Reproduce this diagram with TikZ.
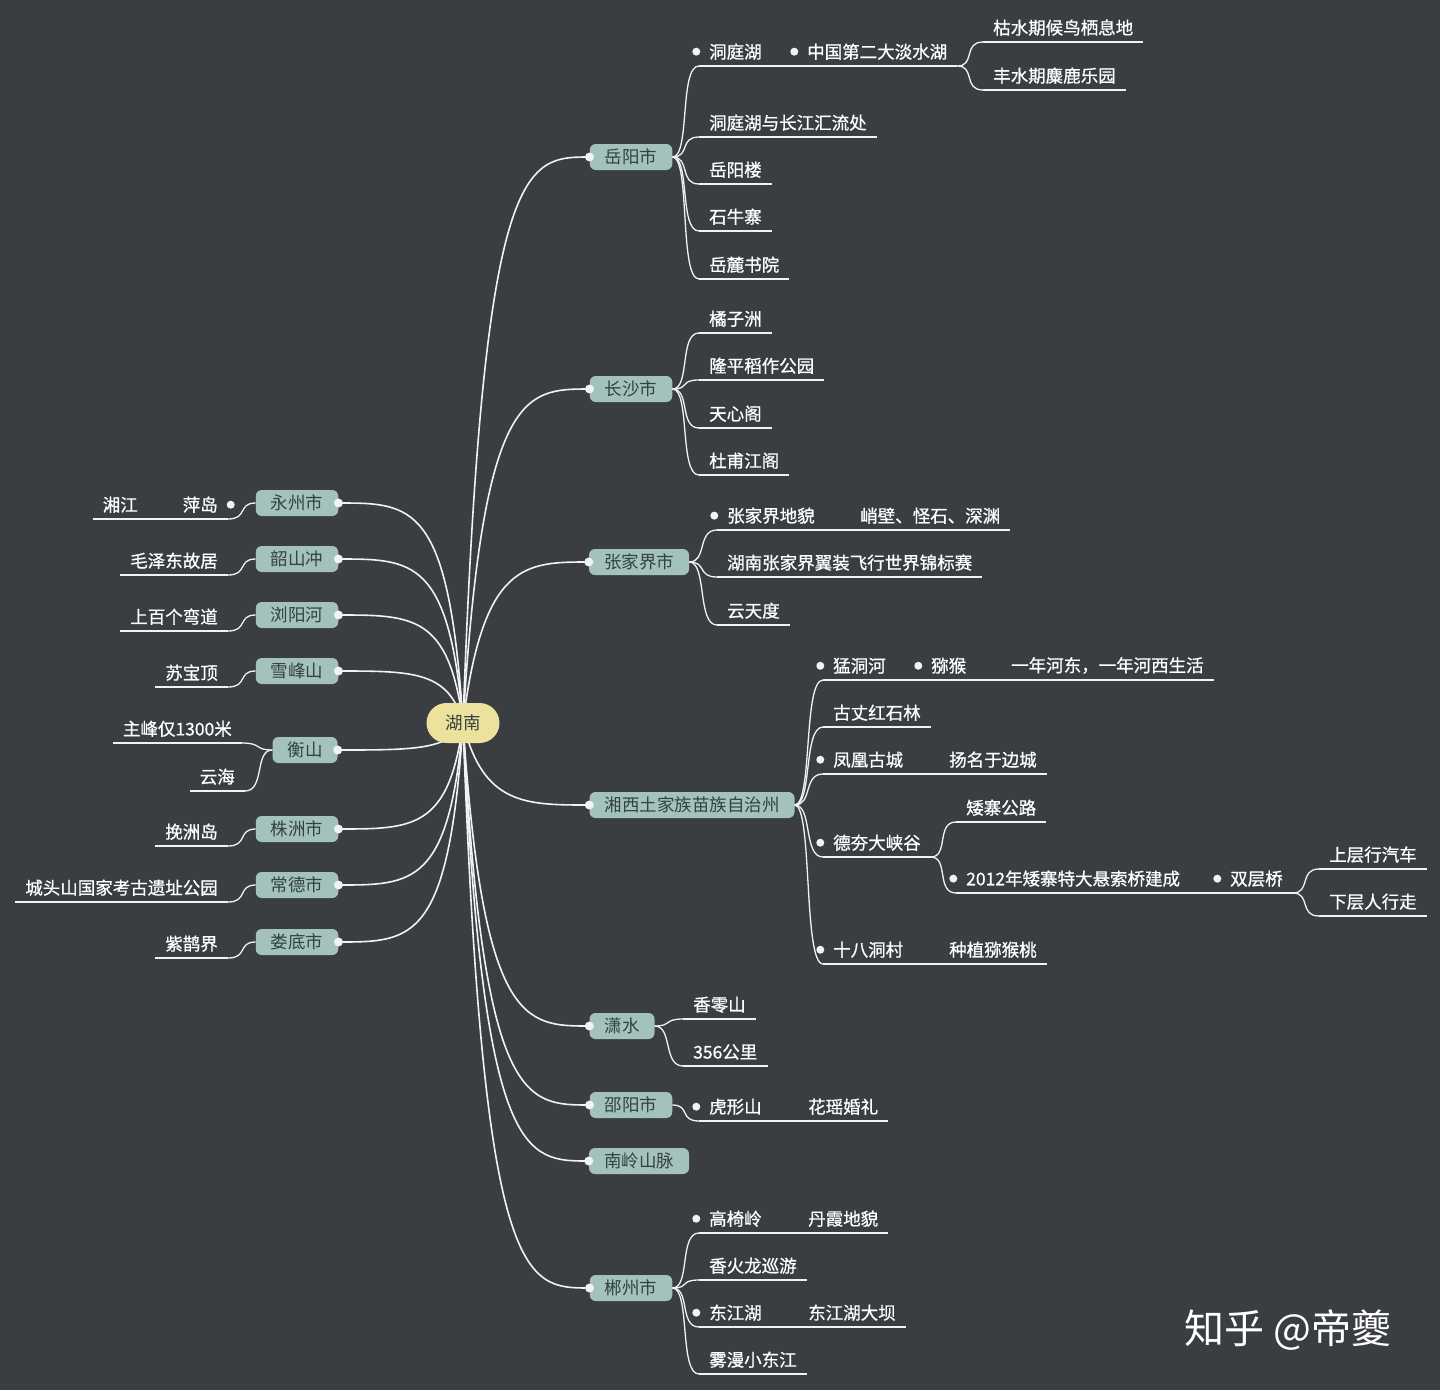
\documentclass[tikz,border=0pt]{standalone}
\usepackage{fontspec}
\setmainfont{Noto Sans CJK SC}
\newfontfamily\leaffont{Noto Sans CJK SC}[UprightFeatures={FakeBold=0.7}]
\usetikzlibrary{backgrounds}
\pgfdeclarelayer{canvas}
\pgfsetlayers{canvas,background,main}

\definecolor{bgc}{HTML}{3A3E43}
\definecolor{linec}{HTML}{F2F2F2}
\definecolor{cityfill}{HTML}{A3C2BB}
\definecolor{citytext}{HTML}{34413F}
\definecolor{rootfill}{HTML}{EDE19E}

\begin{document}
\begin{tikzpicture}[
  x=1pt, y=-1pt,
  root/.style={rectangle, rounded corners=20pt, fill=rootfill, text=citytext, minimum width=73pt, minimum height=40pt, font=\fontsize{17.5}{20}\selectfont},
  city/.style={rectangle, rounded corners=6pt, fill=cityfill, text=citytext, minimum height=26pt, inner xsep=15pt, font=\fontsize{17.5}{20}\selectfont},
  uline/.style={draw=linec, line width=1.3pt},
  leaf/.style={text=white, inner xsep=10pt, inner ysep=6pt, anchor=south west, font=\fontsize{17.5}{20}\leaffont,
    append after command={(\tikzlastnode.south west) edge[uline] (\tikzlastnode.south east)}},
  leafL/.style={leaf, anchor=south east},
  dotmark/.style={circle, fill=linec, inner sep=0pt, minimum size=8pt, label distance=-1.5pt},
  dotleaf/.style={leaf, label={[dotmark]left:{}}},
  dotleafL/.style={leafL, label={[dotmark]right:{}}},
  trunk/.style={draw=linec, line width=1.6pt},
  brR/.style={trunk, line width=1.3pt, to path={.. controls +(18,0) and +(-20,0) .. (\tikztotarget)}},
  brL/.style={trunk, line width=1.3pt, to path={.. controls +(-18,0) and +(20,0) .. (\tikztotarget)}}
]
\begin{pgfonlayer}{canvas}
\fill[bgc] (0,0) rectangle (1440,1390);
\end{pgfonlayer}
\useasboundingbox (0,0) rectangle (1440,1390);

% root and cities
\node[root] (hunan) at (463,723) {湖南};
\node[city] (yueyang) at (631,157) {岳阳市};
\node[city] (changsha) at (631,389) {长沙市};
\node[city] (zjj) at (639,562) {张家界市};
\node[city] (xiangxi) at (692,805) {湘西土家族苗族自治州};
\node[city] (xiaoshui) at (622,1026) {潇水};
\node[city] (shaoyang) at (631,1105) {邵阳市};
\node[city] (nanling) at (639,1161) {南岭山脉};
\node[city] (chenzhou) at (631,1288) {郴州市};
\node[city] (yongzhou) at (297,503) {永州市};
\node[city] (shaoshan) at (297,559) {韶山冲};
\node[city] (liuyang) at (297,615) {浏阳河};
\node[city] (xuefeng) at (297,671) {雪峰山};
\node[city] (hengshan) at (305,750) {衡山};
\node[city] (zhuzhou) at (297,829) {株洲市};
\node[city] (changde) at (297,885) {常德市};
\node[city] (loudi) at (297,942) {娄底市};

% trunks
\begin{scope}[on background layer]
\foreach \c in {yueyang, changsha, zjj, xiangxi, xiaoshui, shaoyang, nanling, chenzhou}{
  \coordinate (lvl) at (hunan.center |- \c.west);
  \draw[trunk] (hunan.center) .. controls ([xshift=20pt]lvl) and ([xshift=62pt]lvl) .. (\c.west);
}
\foreach \c in {yongzhou, shaoshan, liuyang, xuefeng, hengshan, zhuzhou, changde, loudi}{
  \coordinate (lvl) at (hunan.center |- \c.east);
  \draw[trunk] (hunan.center) .. controls ([xshift=-14pt]lvl) and ([xshift=-50pt]lvl) .. (\c.east);
}
\end{scope}
\foreach \c in {yueyang, changsha, zjj, xiangxi, xiaoshui, shaoyang, nanling, chenzhou}
  \fill[linec] (\c.west) circle (4.5);
\foreach \c in {yongzhou, shaoshan, liuyang, xuefeng, hengshan, zhuzhou, changde, loudi}
  \fill[linec] (\c.east) circle (4.5);

% 岳阳市
\node[dotleaf] (dongting) at (699,66) {洞庭湖};
\node[dotleaf] (danshui) at (797,66) {中国第二大淡水湖};
\node[leaf] (kushui) at (983,42) {枯水期候鸟栖息地};
\node[leaf] (fengshui) at (983,90) {丰水期麋鹿乐园};
\node[leaf] (huiliu) at (699,137) {洞庭湖与长江汇流处};
\node[leaf] (yylou) at (699,184) {岳阳楼};
\node[leaf] (shiniu) at (699,231) {石牛寨};
\node[leaf] (yuelu) at (699,279) {岳麓书院};
\draw (yueyang.east) edge[brR] (dongting.south west)
  (dongting.south east) edge[uline] (danshui.south west)
  (danshui.south east) edge[brR] (kushui.south west)
  (danshui.south east) edge[brR] (fengshui.south west)
  (yueyang.east) edge[brR] (huiliu.south west)
  (yueyang.east) edge[brR] (yylou.south west)
  (yueyang.east) edge[brR] (shiniu.south west)
  (yueyang.east) edge[brR] (yuelu.south west);

% 长沙市
\node[leaf] (juzi) at (699,333) {橘子洲};
\node[leaf] (longping) at (699,380) {隆平稻作公园};
\node[leaf] (tianxin) at (699,428) {天心阁};
\node[leaf] (dufu) at (699,475) {杜甫江阁};
\foreach \l in {juzi, longping, tianxin, dufu}
  \draw (changsha.east) edge[brR] (\l.south west);

% 张家界市
\node[dotleaf] (dimao) at (717,530) {张家界地貌};
\node[leaf] (qiaobi) at (850,530) {峭壁、怪石、深渊};
\node[leaf] (yizhuang) at (717,577) {湖南张家界翼装飞行世界锦标赛};
\node[leaf] (yuntian) at (717,625) {云天度};
\draw (zjj.east) edge[brR] (dimao.south west)
  (dimao.south east) edge[uline] (qiaobi.south west)
  (zjj.east) edge[brR] (yizhuang.south west)
  (zjj.east) edge[brR] (yuntian.south west);

% 湘西土家族苗族自治州
\node[dotleaf] (mengdong) at (823,680) {猛洞河};
\node[dotleaf] (mihou) at (921,680) {猕猴};
\node[leaf] (hedong) at (1001,680) {一年河东，一年河西生活};
\node[leaf] (guzhang) at (823,727) {古丈红石林};
\node[dotleaf] (fenghuang) at (823,774) {凤凰古城};
\node[leaf] (yangming) at (939,774) {扬名于边城};
\node[dotleaf] (dehang) at (823,857) {德夯大峡谷};
\node[leaf] (aizhai) at (956,822) {矮寨公路};
\node[dotleaf] (qiao) at (956,893) {2012年矮寨特大悬索桥建成};
\node[dotleaf] (shuangceng) at (1220,893) {双层桥};
\node[leaf] (shangceng) at (1319,869) {上层行汽车};
\node[leaf] (xiaceng) at (1319,916) {下层人行走};
\node[dotleaf] (shiba) at (823,964) {十八洞村};
\node[leaf] (zhongzhi) at (939,964) {种植猕猴桃};
\draw (xiangxi.east) edge[brR] (mengdong.south west)
  (mengdong.south east) edge[uline] (mihou.south west)
  (mihou.south east) edge[uline] (hedong.south west)
  (xiangxi.east) edge[brR] (guzhang.south west)
  (xiangxi.east) edge[brR] (fenghuang.south west)
  (fenghuang.south east) edge[uline] (yangming.south west)
  (xiangxi.east) edge[brR] (dehang.south west)
  (dehang.south east) edge[brR] (aizhai.south west)
  (dehang.south east) edge[brR] (qiao.south west)
  (qiao.south east) edge[uline] (shuangceng.south west)
  (shuangceng.south east) edge[brR] (shangceng.south west)
  (shuangceng.south east) edge[brR] (xiaceng.south west)
  (xiangxi.east) edge[brR] (shiba.south west)
  (shiba.south east) edge[uline] (zhongzhi.south west);

% 潇水, 邵阳市
\node[leaf] (xiangling) at (683,1019) {香零山};
\node[leaf] (gongli) at (683,1066) {356公里};
\node[dotleaf] (huxing) at (699,1121) {虎形山};
\node[leaf] (huayao) at (798,1121) {花瑶婚礼};
\draw (xiaoshui.east) edge[brR] (xiangling.south west)
  (xiaoshui.east) edge[brR] (gongli.south west)
  (shaoyang.east) edge[brR] (huxing.south west)
  (huxing.south east) edge[uline] (huayao.south west);

% 郴州市
\node[dotleaf] (gaoyi) at (699,1233) {高椅岭};
\node[leaf] (danxia) at (798,1233) {丹霞地貌};
\node[leaf] (huolong) at (699,1280) {香火龙巡游};
\node[dotleaf] (dongjiang) at (699,1327) {东江湖};
\node[leaf] (daba) at (798,1327) {东江湖大坝};
\node[leaf] (wuman) at (699,1374) {雾漫小东江};
\draw (chenzhou.east) edge[brR] (gaoyi.south west)
  (gaoyi.south east) edge[uline] (danxia.south west)
  (chenzhou.east) edge[brR] (huolong.south west)
  (chenzhou.east) edge[brR] (dongjiang.south west)
  (dongjiang.south east) edge[uline] (daba.south west)
  (chenzhou.east) edge[brR] (wuman.south west);

% left side
\node[dotleafL] (pingdao) at (228,519) {萍岛};
\node[leafL] (xiangjiang) at (148,519) {湘江};
\node[leafL] (guju) at (228,575) {毛泽东故居};
\node[leafL] (wandao) at (228,631) {上百个弯道};
\node[leafL] (subao) at (228,687) {苏宝顶};
\node[leafL] (zhufeng) at (242,743) {主峰仅1300米};
\node[leafL] (yunhai) at (245,791) {云海};
\node[leafL] (wanzhou) at (228,846) {挽洲岛};
\node[leafL] (chengtou) at (228,902) {城头山国家考古遗址公园};
\node[leafL] (zique) at (228,958) {紫鹊界};
\draw (yongzhou.west) edge[brL] (pingdao.south east)
  (pingdao.south west) edge[uline] (xiangjiang.south east)
  (shaoshan.west) edge[brL] (guju.south east)
  (liuyang.west) edge[brL] (wandao.south east)
  (xuefeng.west) edge[brL] (subao.south east)
  (hengshan.west) edge[brL] (zhufeng.south east)
  (hengshan.west) edge[brL] (yunhai.south east)
  (zhuzhou.west) edge[brL] (wanzhou.south east)
  (changde.west) edge[brL] (chengtou.south east)
  (loudi.west) edge[brL] (zique.south east);

\node[text=white, font=\fontsize{40}{44}\selectfont] (mark) at (1288,1330) {知乎 @帝夔};
\end{tikzpicture}
\end{document}
